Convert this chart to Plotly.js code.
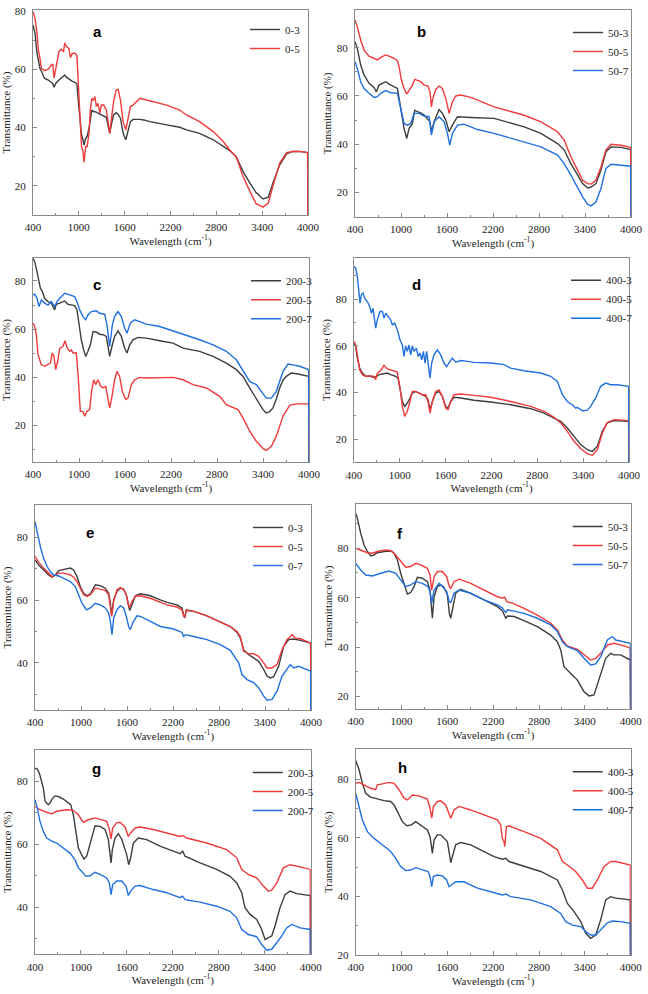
<!DOCTYPE html>
<html><head><meta charset="utf-8">
<script src="https://cdn.plot.ly/plotly-3.0.1.min.js"></script>
<style>html,body{margin:0;padding:0;background:#fff}#chart{width:648px;height:994px}</style>
</head><body><div id="chart"></div>
<script>
// ---------- DATA (wavenumber cm-1, transmittance %) ----------
// panel a
const a_x = [400,425,450,470,490,510,550,600,640,660,675,700,740,770,800,815,840,870,890,915,950,975,990,1010,1035,1055,1068,1090,1110,1135,1150,1170,1190,1210,1230,1250,1275,1295,1325,1360,1385,1405,1425,1455,1490,1515,1545,1580,1615,1645,1675,1710,1755,1800,1850,1930,2150,2320,2410,2580,2760,2890,2975,3060,3150,3240,3320,3410,3480,3540,3630,3720,3800,3890,3995,4000];
const a03_y = [75.1,72.5,66,62.3,60.3,59.3,56.9,56.3,55.4,55,53.8,55.2,56.3,57,57.8,58,57.2,56.6,56.2,55.8,55.5,55,50,43,37.5,35.8,34,36.3,37,40,43,46,45.5,45.5,45.3,44.9,44.6,44.3,43.9,43.5,40.3,38,40.9,44.3,45.1,44.5,43.2,38,35.8,38.6,42,42.8,42.9,42.8,42.6,42,40.9,40.1,39.2,38,35.8,33.5,32.1,30,24.9,20.9,17.7,15.5,16.1,20.9,27.2,31,31.8,31.8,31.4,5];
const a05_y = [79.7,77.6,73,66.5,64,60.3,59.5,60,61.4,61.8,56.9,61,66,66.8,66,69,67.7,67.1,64,65.4,65.5,64.8,57.4,44.5,33.5,31.8,28.1,33.5,33.5,38.6,46,50,49.4,50.6,47.2,48.3,44.9,47.7,47.7,46,40.9,38,42.6,48.9,52.9,53.1,49.4,42,39.2,43.7,47.2,47.7,48.9,50,49.7,49.1,47.7,46,44.3,42,38.6,35.2,32.3,30,23.2,18.1,13.9,12.7,14.1,19.8,27.8,31.4,31.8,31.8,31.4,5];
// panel b
const b503_x = [400,430,474,518,583,648,679,713,757,800,844,909,953,979,1009,1040,1075,1105,1149,1179,1214,1258,1301,1345,1379,1397,1432,1497,1540,1584,1628,1671,1736,1910,2215,2607,2825,3042,3129,3216,3303,3369,3434,3478,3543,3608,3673,3739,3869,3995,4000];
const b503_y = [82.5,79.7,72.8,68.7,65.2,63.5,61.7,64.5,65.2,65.9,64.9,63.8,63.1,58.3,51.4,46.5,42.4,46.5,48.6,54.1,53.5,53,52.1,50.7,49.3,45.2,49.3,54.4,52.8,50,45.2,47.9,51.4,51.1,50.7,47.2,44.5,40.3,37.6,32,27.2,23.7,21.9,22.3,23.7,29.3,36.9,38.9,38.7,37.8,5];
const b505_x = [400,430,474,518,583,670,692,735,800,844,909,953,975,1005,1040,1075,1105,1149,1179,1214,1258,1301,1353,1379,1397,1410,1453,1497,1540,1584,1628,1671,1715,1780,1910,2215,2607,2825,3042,3129,3216,3303,3369,3434,3478,3543,3608,3673,3739,3869,3995,4000];
const b505_y = [91.5,88.7,83.2,79,76.5,75.2,74.9,76,77,76.5,75.6,74.6,72.1,66.6,63.1,60.8,62.4,64.5,66.9,66.3,65.9,64.5,64.1,61.7,55.5,58.3,62.7,64.1,63.1,59,52.8,57.6,60,60.4,59.4,55.5,52,49.3,45.2,41.7,34.8,29.3,25.1,23.7,23.5,25.1,30.6,37.6,40,39.6,38.7,5];
const b507_x = [400,430,474,518,583,648,692,735,800,866,953,979,1009,1040,1083,1127,1170,1236,1301,1366,1397,1432,1497,1562,1606,1636,1671,1736,1823,1998,2215,2607,2825,3042,3129,3216,3303,3369,3434,3478,3543,3608,3673,3739,3869,3995,4000];
const b507_y = [74.2,71.4,65.9,63.1,61.1,59.4,59.7,61.1,62.2,61.3,61.1,57.6,52.8,48.6,47.9,48.6,52.8,52.8,51.7,51.4,43.8,49.3,51.4,49.3,44.5,39.6,44.5,47.9,48.3,46.1,44.5,41,38.9,35.5,32,27.2,22.3,18.2,15.2,14.5,16.1,21.7,30,31.7,31.3,30.9,5];
// panel c
const c2003_x = [400,422,452,478,496,522,552,596,639,683,704,748,813,857,900,943,974,1000,1030,1061,1087,1117,1148,1183,1226,1270,1313,1357,1378,1400,1430,1465,1509,1552,1596,1626,1661,1704,1770,1878,2052,2226,2357,2574,2748,2922,3052,3139,3226,3313,3400,3443,3487,3530,3574,3617,3661,3704,3770,3857,3995,4000];
const c2003_y = [89.4,88,83.9,79.7,77,75.6,72.8,71.4,70.8,68,70.3,70.8,71.7,70.3,70,69.8,68,61.8,55.6,51.4,48.7,50.8,53.5,59,58.8,57.9,57.7,57,53.5,48.7,52.9,57,59.3,57,52.1,50.1,53.5,55.6,56.6,56.3,55.2,54.2,52.1,50.8,48.7,45.9,43.2,40.4,35.6,30.8,26.6,25.2,25.8,27.3,31,35.6,38.8,40.4,41.8,41.4,40.4,0];
const c2005_x = [400,422,443,465,487,509,552,596,626,652,674,696,726,748,791,817,848,878,900,922,965,991,1017,1052,1074,1104,1139,1165,1191,1217,1248,1283,1313,1348,1378,1400,1430,1465,1496,1530,1565,1609,1639,1683,1726,1791,1878,2052,2226,2357,2487,2661,2835,2922,3009,3074,3139,3226,3313,3400,3443,3509,3574,3661,3748,3835,3995,4000];
const c2005_y = [62.5,61.1,57.7,49.4,47.3,45.2,44.6,45.5,45.9,50.1,48.7,43.2,47.3,52.1,52.8,55.2,52.1,50.8,51.4,50.1,50.1,39.7,25.9,25.9,23.9,25.9,26.6,34.2,39,37,39,36.3,35.6,36.3,30.8,27.3,32.1,39,42.5,40.4,34.2,30.8,31.4,37,39,40,39.7,40,40,39,37,35.6,32.1,28.7,27.6,26.6,23.2,17.7,13.5,10.5,9.7,11.4,15.6,23.9,28.4,29,29,0];
const c2007_x = [400,422,452,478,509,552,596,639,683,713,748,813,878,943,974,1009,1052,1087,1117,1161,1226,1270,1335,1365,1400,1435,1465,1509,1552,1596,1626,1670,1726,1791,1878,2052,2226,2400,2574,2748,2922,3052,3139,3226,3313,3378,3443,3509,3574,3661,3726,3791,3878,3995,4000];
const c2007_y = [74.2,74.5,72.8,69.4,72.1,70.8,70,71.4,69.4,71.4,72.8,74.9,74.2,73.5,71.4,68,65.2,63.9,65.9,67.3,67.6,66.6,66.2,61.8,52.8,61.8,65.2,67.3,65.2,60.4,58.3,62.5,63.9,63.2,62.1,61.1,59.3,57.7,55.6,53.5,50.8,47.3,42.5,38.3,37,34.2,31.4,31.4,34.2,42.5,45.5,45.2,44.6,43.2,0];
// panel d
const d4003_x = [400,422,444,474,509,553,618,662,697,727,771,836,880,945,976,1002,1033,1063,1098,1133,1164,1207,1251,1295,1338,1369,1395,1426,1469,1513,1556,1600,1631,1666,1709,1796,1971,2189,2451,2713,2887,3018,3106,3193,3280,3367,3455,3520,3586,3651,3716,3804,3995,4000];
const d4003_y = [61.1,59.7,54.7,50.4,48.3,46.9,46.9,46.4,46.9,47.6,47.9,48.3,47.6,46.9,46.1,41.9,36.1,34,35.4,37.6,39.7,40.4,39.7,39,38.3,36.9,32.6,36.1,39.7,40.4,38.3,34,33.3,36.1,37.9,37.6,36.6,35.9,34.7,33,31.1,29,27.6,24.7,21.1,17.6,15.4,14.7,16.9,23.3,26.9,27.9,27.6,5];
const d4005_x = [400,422,444,474,509,553,618,662,684,705,749,793,836,880,924,967,1002,1033,1063,1098,1133,1164,1207,1251,1295,1338,1369,1395,1426,1469,1513,1556,1600,1631,1666,1709,1796,1971,2189,2451,2713,2887,3018,3106,3193,3280,3367,3455,3520,3586,3651,3716,3804,3995,4000];
const d4005_y = [61.9,60.4,56.1,49.7,47.6,46.9,47.1,46.9,45.4,48.3,49.3,51.6,50.1,49.7,49.3,48.7,41.9,34,29.7,31.9,36.1,40.4,40.4,39.7,39,39,36.1,31.1,36.1,40.4,41.1,38.3,33.3,32.6,36.1,39,39.3,38.7,37.9,36.1,34,31.9,29.3,26.9,23.3,19,15.9,13.6,13,15.4,22.6,27.1,28.3,27.9,5];
const d4007_x = [400,422,444,465,479,496,518,540,575,605,627,649,675,684,705,740,771,793,815,845,880,902,932,967,1002,1033,1055,1076,1098,1120,1142,1164,1185,1216,1242,1264,1286,1308,1330,1351,1373,1395,1417,1447,1491,1535,1578,1613,1657,1687,1731,1796,1884,1971,2189,2364,2451,2626,2844,2975,3062,3128,3193,3258,3302,3324,3389,3455,3498,3564,3629,3695,3760,3847,3995,4000];
const d4007_y = [94,93.3,89.7,83.3,78.3,81.9,82.6,80.4,79,76.9,74,76.1,70.4,67.6,71.1,74.7,74.7,71.9,74,72.6,71.1,69,69.7,66.9,62.6,60.4,55.4,60,57.6,60.4,56.1,60,57.6,59,55.4,56.9,54,57.6,52.6,57.6,50.4,46.1,52.6,56.1,58.3,56.1,52.6,51.1,53.3,54.7,53,53.7,53.3,52.9,52.6,51.9,50.4,49.3,48.3,46.9,44.7,39,36.1,34.7,33.2,33.6,32.1,32.4,34,37.6,42.6,44,43.3,43.3,42.6,5];
// panel e
const e03_x = [400,448,513,578,622,665,709,774,861,904,948,991,1035,1078,1122,1187,1252,1317,1361,1383,1400,1426,1470,1513,1557,1591,1617,1635,1665,1709,1774,1904,2035,2122,2252,2317,2339,2352,2374,2470,2643,2817,2948,3035,3078,3122,3187,3252,3317,3383,3426,3470,3513,3578,3643,3709,3774,3861,3995,4000];
const e03_y = [72.8,71.2,69.6,68,67.3,68,69.4,69.8,70.2,69.6,67.5,64.3,62.2,61.4,62,64.9,64.6,63.8,62.2,59,55.3,60.1,62.8,63.8,63.5,61.7,58,56.7,58.5,61.4,62,61.4,60.1,59.3,58.5,57.5,55.3,54.3,56.9,56.4,55,53.2,51.6,49.7,47.9,44.2,42.6,41.6,40.5,37.9,35.8,35.2,35.6,38.9,45.3,47.4,47.6,47.2,46.3,5];
const e05_x = [400,448,513,578,622,665,709,774,861,904,948,991,1035,1078,1122,1187,1252,1317,1361,1383,1400,1426,1470,1513,1557,1591,1617,1635,1665,1709,1774,1904,2035,2122,2252,2317,2339,2352,2374,2470,2643,2817,2948,3035,3078,3122,3187,3252,3317,3383,3426,3491,3557,3622,3687,3730,3752,3796,3861,3995,4000];
const e05_y = [73.9,72,70.2,68.6,67.5,68,68.6,68.6,68,67.3,65.9,63.8,61.7,61.2,61.7,63.8,63.5,63.1,61.7,58,54.8,59.6,63.3,64,63.3,61.7,58.5,57.8,59.6,61.2,61.4,60.6,59.4,58.5,57.8,56.9,55,54.6,56.7,56.4,55,53.2,51.6,50,48.4,43.7,42.9,42.9,42.1,40,38.4,38.4,39.5,44.2,47.4,48.3,49,47.9,47.7,46.3,5];
const e07_x = [400,426,470,513,557,600,643,709,774,861,926,970,1013,1070,1122,1187,1252,1317,1361,1383,1404,1426,1470,1513,1557,1591,1622,1643,1674,1730,1774,1904,2035,2209,2317,2339,2361,2470,2643,2817,2948,3013,3057,3100,3165,3252,3317,3383,3426,3491,3557,3622,3687,3730,3774,3839,3995,4000];
const e07_y = [85,81.8,77,73.3,70.7,69.1,68,67.7,67,65.9,64.3,61.7,59,56.9,57.5,59,58.5,57.5,55.9,53.2,49,54.3,56.9,58.2,57.5,54.8,51.6,50.6,52.7,55,54.8,53.2,51.6,50.8,49.7,48.4,49,48.4,47.4,45.8,44,41.6,40,36.3,34.7,33.7,32.1,29.4,28.1,28.4,31,35.8,37.9,39.5,38.4,38.9,37.4,5];
// panel f
const f503_x = [400,422,465,509,553,596,640,684,771,858,902,945,989,1033,1076,1120,1164,1207,1273,1338,1373,1391,1404,1426,1469,1513,1556,1600,1626,1644,1666,1709,1775,1906,2080,2255,2320,2364,2386,2473,2604,2778,2953,3040,3084,3127,3215,3302,3389,3455,3520,3586,3673,3738,3782,3869,3995,4000];
const f503_y = [94.2,92.1,86.1,81.3,78.7,76.9,77.3,78.2,78.7,78.9,78,75.3,69.9,65.2,61.5,62.1,64.5,68.3,67.9,66.5,63.1,56.4,51.7,60.4,64.5,65.2,64.2,61.1,53.7,51.7,55.7,61.8,63.4,61.8,59.1,56.4,54.7,51.7,52.6,52.4,50.7,48.3,44.9,42.2,38.9,32.1,29.4,26.7,22,20.3,20.7,26.7,35.5,37.5,36.9,36.9,34.8,5];
const f505_x = [400,465,553,618,705,815,880,924,989,1055,1120,1186,1251,1338,1373,1395,1426,1469,1535,1591,1626,1644,1687,1753,1906,2080,2255,2320,2350,2380,2451,2604,2778,2953,3040,3106,3171,3302,3389,3476,3542,3607,3695,3782,3913,3995,4000];
const f505_y = [80,79.3,78.2,78,78.9,79.3,78.7,77.3,74.6,72.3,72.6,73.9,73.3,71.9,69.2,63.1,68.5,70.6,70.6,68.5,64.5,63.8,66.5,67.5,65.8,63.1,60.4,59.8,60.2,58.4,57.8,55.7,53,49.7,47,42.9,40.5,39.1,36.9,34.8,35.5,37.5,40.9,41.6,40.5,39.6,5];
const f507_x = [400,465,531,618,727,836,924,989,1055,1120,1186,1273,1347,1373,1395,1426,1491,1535,1591,1626,1644,1687,1753,1906,2080,2255,2320,2364,2386,2473,2604,2778,2953,3040,3106,3171,3302,3389,3476,3542,3607,3695,3760,3804,3913,3995,4000];
const f507_y = [73.9,71.2,69.2,68.8,69.9,70.8,69.9,67.2,64.5,65.2,66.5,65.8,64.5,62.5,57.8,63.1,65.8,64.5,62.5,58.4,58,61.8,63.1,61.8,59.1,57.1,55.8,54,55.1,54.6,53.7,51.7,49,46.3,42.2,40.2,38.6,35.5,32.8,33.2,36.2,42.9,44.3,42.9,42.2,41.6,5];
// panel g
const g2003_x = [400,430,457,487,509,531,552,574,596,618,661,705,770,814,866,901,935,966,1009,1040,1075,1118,1184,1249,1314,1358,1393,1410,1445,1488,1532,1562,1597,1623,1649,1684,1749,1858,2032,2206,2294,2328,2359,2555,2772,2947,3034,3099,3142,3208,3295,3360,3404,3447,3491,3534,3599,3665,3730,3817,3995,4000];
const g2003_y = [84.2,83.9,82.6,80,77.9,73.7,73.1,72.6,73.1,74.2,75.4,75.2,74.4,73.7,72.6,69.4,63.6,58.8,56.7,55.3,56.2,60.4,65.9,65.7,64.7,61.5,54.1,58.3,62,63.4,61.7,59.4,56.7,53.5,55.7,60.4,62,61.5,59.4,57.8,57,57.8,56.2,54.1,52,49.8,47.7,44.6,39.8,37.7,36.1,32.9,29.7,30.3,30.8,34,39.8,44,45.1,44.3,43.7,5];
const g2005_x = [400,465,552,618,683,814,901,966,1031,1096,1184,1271,1336,1366,1393,1414,1466,1510,1575,1619,1649,1706,1771,1945,2119,2294,2328,2381,2642,2903,3034,3099,3186,3295,3382,3447,3491,3556,3643,3730,3861,3995,4000];
const g2005_y = [72.1,71,70.2,69.7,70.5,71,70.8,69.4,67,67.8,68.4,67.8,67.3,65.2,61.7,65.2,66.8,67,65.5,62.5,63.6,65.2,65.5,64.7,63.6,62.5,62.8,62,60.4,58.3,55.7,52,50.4,49.3,46.7,45.1,45.4,47.7,52.5,53.5,52.8,52,5];
const g2007_x = [400,430,465,509,552,618,683,770,857,922,966,1009,1066,1118,1184,1249,1336,1371,1393,1414,1466,1532,1588,1619,1649,1706,1771,1945,2119,2294,2328,2359,2555,2772,2947,3034,3099,3186,3295,3360,3425,3491,3556,3621,3686,3752,3861,3995,4000];
const g2007_y = [74.2,71.5,67.3,64.1,62,61,60.4,58.8,57.2,55.1,52.5,51.4,49.8,50,51.1,50.4,49.3,47.7,44,47.2,48.3,48.3,46.7,43.7,45.1,46.7,46.9,45.6,44.6,43,43.5,42.4,41.6,40.3,38.7,36.6,32.9,31.3,30.6,28.1,26.3,26.6,28.7,30.8,33.4,34.5,33.4,32.9,5];
// panel h
const h4003_x = [400,444,487,531,596,684,771,858,902,945,1011,1068,1129,1186,1251,1338,1373,1391,1404,1426,1469,1513,1556,1600,1626,1644,1666,1709,1775,1906,2080,2211,2320,2364,2407,2604,2822,3040,3106,3171,3258,3346,3411,3476,3542,3607,3673,3738,3804,3995,4000];
const h4003_y = [86.4,83.2,78.6,75.2,73.9,73.2,72.7,72.4,71.2,69,65.5,64.1,64.4,65.5,64.4,62.7,60.4,57.6,54.7,59.3,61,61,59.8,58.7,54.7,51.5,53.6,57.6,58.4,57.6,55.3,53.6,52.7,53,51.9,50.4,48.5,45.6,42.2,37.6,34.8,31.4,27.4,25.7,26.8,32,38.8,39.9,39.4,38.8,5];
const h4005_x = [400,444,509,596,662,684,749,836,902,967,1033,1076,1142,1229,1338,1373,1395,1417,1469,1513,1578,1622,1644,1687,1753,1906,2080,2255,2298,2320,2342,2351,2373,2407,2604,2822,3040,3106,3171,3280,3367,3433,3498,3564,3651,3738,3804,3995,4000];
const h4005_y = [78.6,78.9,78.1,76.9,76.4,78.1,78.4,78.9,78.6,76.4,73.5,72.9,74.6,74.3,73.2,70.1,66.7,70.7,72.4,72.6,71.2,67.8,66.7,69.5,70.7,69.5,67.8,66.1,64.4,59.8,58.7,57,63.8,64.1,62.1,59.8,55.9,51.9,50.7,48.5,45.6,42.8,42.8,45.6,50.2,51.9,51.9,50.7,5];
const h4007_x = [400,444,487,553,640,749,858,924,989,1055,1120,1186,1273,1347,1373,1395,1417,1469,1535,1591,1622,1652,1709,1818,1993,2167,2320,2364,2429,2691,2953,3084,3149,3237,3346,3411,3476,3542,3607,3695,3760,3869,3995,4000];
const h4007_y = [75.2,70.7,66.1,62.1,59.8,57.6,55.3,53,50.2,48.8,49,49.8,49,48.5,46.8,43.3,46.8,47.3,47,45.6,43.3,43.9,45,45,42.8,41.6,40.5,40.8,39.9,38.8,36.5,34.2,31.4,30.2,29.7,28,26.8,26.8,28.5,31,31.6,31.4,30.8,5];

const letters = ['a','b','c','d','e','f','g','h'];
const yRanges = [[10,80.3],[10,95.6],[5,89.4],[10,97.8],[25,90.3],[15,97.9],[25,90],[20,90.2]];

// ---------- LAYOUT ----------
const W = 648, H = 994;
const FONT = 'Liberation Serif';
const BLK = '#3d3d3d', RED = '#f03a3a', BLU = '#2070e0';
// plot-area boxes in px: [left, right, top, bottom]
const boxes = [
  [33,308,10,215],[355,631,10,216.7],
  [33,309,258.3,461.7],[354,629,257.7,462.3],
  [35,311,505,710],[355.7,630.7,504,709],
  [35,310.7,750,954.3],[355.7,630.7,749.3,955]
];
const letterPos = [[97,32],[421,32],[97,285],[416,285],[90,532],[400,533],[96,768],[402,767]];

const panelSeries = [
  [['0-3',a_x,a03_y,BLK],['0-5',a_x,a05_y,RED]],
  [['50-3',b503_x,b503_y,BLK],['50-5',b505_x,b505_y,RED],['50-7',b507_x,b507_y,BLU]],
  [['200-3',c2003_x,c2003_y,BLK],['200-5',c2005_x,c2005_y,RED],['200-7',c2007_x,c2007_y,BLU]],
  [['400-3',d4003_x,d4003_y,BLK],['400-5',d4005_x,d4005_y,RED],['400-7',d4007_x,d4007_y,BLU]],
  [['0-3',e03_x,e03_y,BLK],['0-5',e05_x,e05_y,RED],['0-7',e07_x,e07_y,BLU]],
  [['50-3',f503_x,f503_y,BLK],['50-5',f505_x,f505_y,RED],['50-7',f507_x,f507_y,BLU]],
  [['200-3',g2003_x,g2003_y,BLK],['200-5',g2005_x,g2005_y,RED],['200-7',g2007_x,g2007_y,BLU]],
  [['400-3',h4003_x,h4003_y,BLK],['400-5',h4005_x,h4005_y,RED],['400-7',h4007_x,h4007_y,BLU]]
];

const traces = [];
const layout = {
  width: W, height: H, margin: {l:0, r:0, t:0, b:0},
  paper_bgcolor: '#fff', plot_bgcolor: '#fff',
  showlegend: true, annotations: [], font: {family: FONT, color: '#222', size: 11}
};
const AX = '#8a8a8a';
panelSeries.forEach((ser, i) => {
  const n = i + 1;
  const xk = n === 1 ? 'xaxis' : 'xaxis' + n;
  const yk = n === 1 ? 'yaxis' : 'yaxis' + n;
  const xr = n === 1 ? 'x' : 'x' + n;
  const yr = n === 1 ? 'y' : 'y' + n;
  const lg = n === 1 ? 'legend' : 'legend' + n;
  const [l, r, t, b] = boxes[i];
  layout[xk] = {
    domain: [l / W, r / W], anchor: yr, range: [400, 4000],
    tickmode: 'linear', tick0: 400, dtick: 600,
    ticks: 'inside', ticklen: 4, tickcolor: AX, tickwidth: 1,
    linecolor: AX, linewidth: 1, mirror: true, showgrid: false, zeroline: false,
    tickfont: {family: FONT, size: 11, color: '#222'},
    ticklabelstandoff: 2,
    minor: {ticks: 'inside', ticklen: 2, dtick: 300, tick0: 400, tickcolor: AX, showgrid: false},
    title: {text: 'Wavelength (cm<sup>-1</sup>)', font: {family: FONT, size: 11, color: '#222'}, standoff: 4}
  };
  layout[yk] = {
    domain: [1 - b / H, 1 - t / H], anchor: xr, range: yRanges[i],
    tickmode: 'linear', tick0: 0, dtick: 20,
    ticks: 'inside', ticklen: 4, tickcolor: AX, tickwidth: 1,
    linecolor: AX, linewidth: 1, mirror: true, showgrid: false, zeroline: false,
    tickfont: {family: FONT, size: 11, color: '#222'},
    ticklabelstandoff: 4,
    minor: {ticks: 'inside', ticklen: 2, dtick: 10, tick0: 0, tickcolor: AX, showgrid: false},
    title: {text: 'Transmittance (%)', font: {family: FONT, size: 11, color: '#222'}, standoff: 2}
  };
  const nItems = ser.length;
  layout[lg] = {
    x: (r - 63) / W, y: 1 - (t + (nItems === 3 ? 8 : 5)) / H, xanchor: 'left', yanchor: 'top',
    bgcolor: 'rgba(0,0,0,0)', borderwidth: 0, tracegroupgap: 0, itemwidth: 30,
    font: {family: FONT, size: 11, color: '#222'}
  };
  ser.forEach(([name, xs, ys, col]) => {
    traces.push({type: 'scatter', mode: 'lines', name, x: xs, y: ys, xaxis: xr, yaxis: yr,
      legend: lg, line: {color: col, width: 1.4}, cliponaxis: true, hoverinfo: 'skip'});
  });
  layout.annotations.push({
    text: '<b>' + letters[i] + '</b>', xref: 'paper', yref: 'paper',
    x: letterPos[i][0] / W, y: 1 - letterPos[i][1] / H, xanchor: 'center', yanchor: 'middle',
    showarrow: false, font: {family: 'Liberation Sans', size: 15, color: '#000'}
  });
});

Plotly.newPlot('chart', traces, layout, {staticPlot: true, displayModeBar: false});
</script></body></html>
